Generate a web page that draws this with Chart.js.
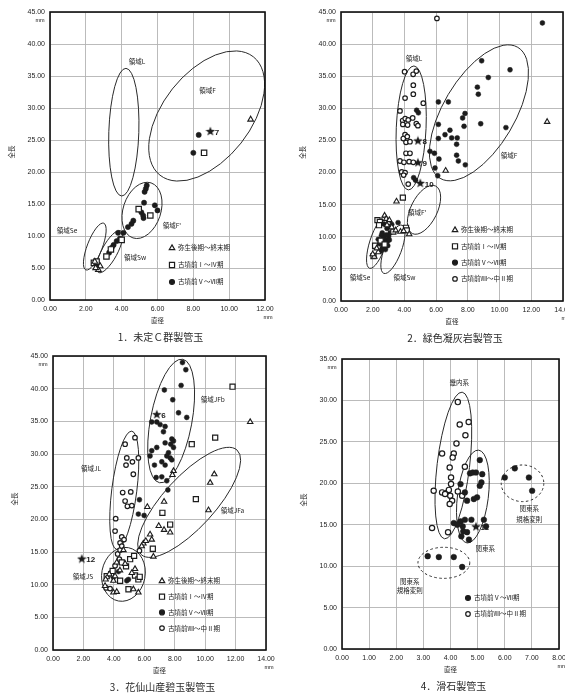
<!DOCTYPE html>
<html>
<head>
<meta charset="utf-8">
<script src="https://cdn.jsdelivr.net/npm/chart.js@4/dist/chart.umd.min.js"></script>
<style>
  html, body { margin: 0; padding: 0; background: #fff; width: 565px; height: 693px; overflow: hidden; }
  canvas { position: absolute; left: 0; top: 0; }
</style>
</head>
<body>
<canvas id="c1" width="600" height="720"></canvas>
<canvas id="c2" width="600" height="720"></canvas>
<canvas id="c3" width="600" height="720"></canvas>
<canvas id="c4" width="600" height="720"></canvas>
<script>
// ---- legend / category names ----
const KIND_LABELS = {
  tri: '弥生後期～終末期',
  sq: '古墳前Ⅰ～Ⅳ期',
  dot: '古墳前Ⅴ～Ⅶ期',
  ring: '古墳前Ⅷ～中Ⅱ期'
};

// ---- 1. 未定C群製管玉 : [直径, 全長] ----
const p1Tri = [[11.2, 28.2], [2.5, 6.0], [2.8, 5.3], [2.7, 4.7], [2.55, 5.0]];
const p1Sq = [[8.6, 23.0], [4.95, 14.2], [5.6, 13.2], [4.0, 9.4], [3.4, 7.9], [3.15, 6.8], [2.45, 5.8], [2.6, 6.0]];
const p1Dot = [[8.3, 25.8], [8.0, 23.0], [5.4, 17.9], [5.35, 17.4], [5.28, 16.9], [5.25, 15.2], [5.85, 14.8], [6.0, 14.0],
  [5.1, 13.7], [5.2, 13.2], [5.22, 12.8], [4.65, 12.4], [4.55, 11.9], [4.35, 11.4], [4.1, 10.5], [3.8, 10.5],
  [3.9, 9.6], [3.72, 9.2], [3.55, 8.6], [3.45, 8.2], [3.3, 7.4], [2.65, 5.6]];
const p1Star = [[8.95, 26.4]];
const p1StarLabels = ['7'];
const p1Regions = [['領域L', 4.85, 37.3], ['領域F', 8.8, 32.8], ['領域F\'', 6.8, 11.7], ['領域Se', 0.95, 10.8], ['領域Sw', 4.75, 6.7]];
const p1Ellipses = [
  { from: [4.0, 16.25], to: [4.24, 36.2], ratio: 0.235 },
  { from: [6.14, 19.5], to: [11.35, 38.0], ratio: 0.58 },
  { from: [4.63, 9.7], to: [5.64, 18.3], ratio: 0.65 },
  { from: [2.0, 4.7], to: [3.0, 12.0], ratio: 0.3 },
  { from: [2.7, 4.3], to: [3.95, 10.8], ratio: 0.33 }
];

// ---- 2. 緑色凝灰岩製管玉 ----
const p2Tri = [[13.0, 27.9], [6.6, 20.3], [3.5, 15.5], [2.75, 13.3], [2.85, 12.8], [3.0, 12.2], [2.9, 11.8], [3.2, 11.5],
  [3.45, 11.0], [3.75, 10.8], [3.95, 10.9], [4.3, 10.4], [2.1, 6.9], [2.0, 7.3], [2.35, 7.6], [2.25, 8.2], [3.05, 12.6]];
const p2Sq = [[3.9, 16.1], [2.3, 12.6], [2.45, 12.3], [4.1, 11.4], [4.15, 11.0], [3.3, 10.8], [2.4, 11.8], [2.15, 8.6],
  [2.5, 9.4], [2.75, 8.8], [2.05, 7.0]];
const p2Dot = [[12.7, 43.3], [8.87, 37.4], [10.66, 36.0], [9.29, 34.8], [8.6, 33.3], [8.66, 32.2], [6.14, 31.0], [6.77, 31.0],
  [7.82, 29.2], [7.67, 28.5], [7.76, 27.2], [8.81, 27.6], [10.4, 27.0], [6.14, 27.5], [6.87, 26.6], [6.56, 25.9],
  [6.14, 25.3], [6.98, 25.4], [7.33, 25.4], [7.29, 24.4], [5.61, 23.3], [5.89, 23.0], [6.18, 22.1], [7.29, 22.7],
  [7.4, 21.8], [7.84, 21.2], [5.93, 20.7], [6.1, 19.5],
  [4.77, 29.7], [4.88, 29.3], [4.58, 19.2], [4.7, 18.8],
  [3.6, 12.2], [2.7, 12.0], [2.9, 11.3], [2.6, 10.6], [2.55, 10.2], [2.7, 9.9], [2.8, 9.5], [2.6, 9.1], [2.9, 9.2],
  [2.45, 8.9], [2.7, 8.5], [2.6, 8.2], [2.8, 8.0], [2.5, 7.8], [3.0, 10.0], [3.1, 10.6], [2.95, 8.6], [3.2, 11.9],
  [2.35, 9.6], [2.85, 10.3], [3.05, 9.5]];
const p2Ring = [[6.05, 44.0], [4.01, 35.7], [4.55, 35.3], [4.75, 35.8], [4.56, 33.6], [4.56, 32.2], [4.04, 31.6], [5.19, 30.8],
  [3.72, 29.6], [3.89, 28.1], [4.05, 28.4], [4.24, 28.2], [4.52, 28.5], [3.9, 27.5], [4.2, 27.4], [4.75, 27.6],
  [4.85, 27.3], [4.04, 25.9], [3.93, 25.3], [4.18, 25.6], [4.1, 24.7], [4.35, 24.8], [4.1, 23.0], [4.35, 23.0],
  [3.72, 21.8], [3.97, 21.6], [4.3, 21.7], [4.56, 21.6], [3.83, 20.1], [4.04, 20.0], [3.95, 19.6], [4.24, 18.2]];
const p2Star = [[4.85, 25.0], [4.85, 21.6], [5.0, 18.4]];
const p2StarLabels = ['8', '9', '10'];
const p2Regions = [['領域L', 4.6, 37.7], ['領域F', 10.6, 22.7], ['領域F\'', 4.8, 13.7], ['領域Se', 1.2, 3.6], ['領域Sw', 4.0, 3.7]];
const p2Ellipses = [
  { from: [4.25, 17.3], to: [4.6, 36.6], ratio: 0.24 },
  { from: [6.25, 19.1], to: [11.15, 39.5], ratio: 0.47 },
  { from: [4.5, 10.5], to: [5.97, 17.9], ratio: 0.5 },
  { from: [1.8, 5.1], to: [2.85, 13.1], ratio: 0.3 },
  { from: [2.7, 4.3], to: [3.85, 11.8], ratio: 0.33 }
];

// ---- 3. 花仙山産碧玉製管玉 ----
const p3Tri = [[12.96, 34.9], [10.6, 26.9], [10.33, 25.6], [10.22, 21.4], [7.92, 27.4], [7.85, 26.8], [7.3, 22.7], [6.2, 21.9],
  [6.95, 19.0], [7.3, 18.4], [7.7, 18.0], [6.6, 14.3], [6.38, 17.7], [6.49, 16.9], [5.94, 16.3], [5.83, 15.9], [6.1, 16.7],
  [3.46, 10.8], [3.42, 9.8], [3.97, 10.6], [4.08, 11.3], [5.18, 11.8], [5.39, 12.4], [3.97, 8.8], [4.19, 8.9],
  [5.28, 9.3], [4.74, 13.2], [4.19, 13.4], [5.61, 8.8], [4.63, 15.3], [4.4, 12.2], [3.7, 11.6]];
const p3Sq = [[11.8, 40.3], [10.66, 32.5], [9.12, 31.5], [9.39, 23.1], [7.19, 21.0], [7.7, 19.2], [6.56, 15.5], [4.52, 13.4],
  [4.8, 12.8], [5.07, 13.9], [5.33, 14.4], [5.39, 11.4], [5.61, 10.8], [4.96, 9.3], [4.41, 10.6], [3.53, 11.3],
  [3.82, 11.6], [3.92, 12.1], [5.7, 11.2]];
const p3Dot = [[8.51, 44.0], [8.73, 42.9], [8.42, 40.5], [7.32, 39.8], [7.87, 38.3], [8.25, 36.3], [8.79, 35.6], [6.49, 34.9],
  [6.82, 34.9], [7.04, 34.5], [7.37, 34.2], [7.26, 33.4], [7.81, 32.3], [7.92, 32.0], [7.74, 31.5], [7.37, 31.7],
  [7.92, 31.0], [6.82, 31.0], [6.49, 30.5], [6.38, 29.7], [7.59, 30.2], [7.48, 29.7], [7.7, 29.4], [7.81, 29.1],
  [7.15, 28.8], [7.37, 28.3], [6.67, 28.3], [6.78, 26.4], [7.15, 26.5], [7.48, 25.9], [7.55, 24.5], [5.68, 23.0],
  [5.61, 20.8], [5.99, 20.6], [3.97, 11.1], [4.85, 10.6], [4.96, 10.8], [4.3, 12.0]];
const p3Ring = [[4.74, 31.5], [5.39, 32.5], [4.85, 29.4], [4.8, 28.3], [5.22, 28.8], [5.61, 29.4], [5.28, 26.9], [4.58, 24.1],
  [5.11, 24.2], [4.74, 22.8], [4.89, 22.0], [5.18, 22.1], [4.12, 20.1], [4.08, 18.2], [4.52, 17.3], [4.67, 16.9],
  [4.41, 16.4], [5.68, 15.2], [4.25, 14.7], [4.41, 15.3], [4.52, 15.9], [3.49, 9.5], [3.75, 9.4], [4.08, 12.9], [4.36, 13.9]];
const p3Star = [[6.82, 36.1], [1.89, 14.0]];
const p3StarLabels = ['6', '12'];
const p3Regions = [['領域JFb', 10.5, 38.3], ['領域JL', 2.5, 27.7], ['領域JFa', 11.8, 21.4], ['領域JS', 1.97, 11.3]];
const p3Ellipses = [
  { from: [7.0, 25.6], to: [8.53, 44.5], ratio: 0.33 },
  { from: [5.8, 14.6], to: [12.1, 30.6], ratio: 0.36 },
  { from: [4.19, 15.4], to: [5.18, 33.5], ratio: 0.21 },
  { from: [4.3, 7.5], to: [4.96, 15.66], ratio: 0.8 }
];

// ---- 4. 滑石製管玉 ----
const p4Dot = [[5.08, 22.8], [4.72, 21.2], [4.82, 21.3], [4.94, 21.3], [5.17, 21.1], [5.14, 20.1], [5.08, 19.7], [4.98, 18.3],
  [4.86, 18.1], [4.61, 17.9], [4.37, 19.9], [4.53, 18.9], [4.12, 15.2], [4.37, 15.4], [4.53, 15.6], [4.77, 15.6],
  [5.23, 15.6], [5.31, 14.8], [4.47, 14.2], [4.61, 14.1], [4.4, 13.6], [4.68, 13.2], [4.25, 15.0], [4.45, 14.8],
  [6.0, 20.7], [6.37, 21.8], [6.89, 20.7], [7.01, 19.1],
  [3.16, 11.2], [3.57, 11.1], [4.12, 11.1], [4.43, 9.9]];
const p4Ring = [[4.27, 29.8], [4.34, 27.1], [4.67, 27.4], [4.55, 25.8], [4.22, 24.8], [3.69, 23.6], [4.12, 23.6], [4.08, 23.1],
  [4.53, 22.0], [3.97, 21.9], [4.02, 20.7], [4.02, 19.9], [3.38, 19.1], [3.69, 18.9], [3.9, 18.9], [3.94, 19.2],
  [4.27, 19.0], [3.99, 18.5], [4.06, 17.9], [3.97, 17.5], [4.43, 18.5], [3.32, 14.6], [3.91, 14.1], [3.8, 18.7]];
const p4Star = [[4.94, 14.8]];
const p4StarLabels = ['11'];
const p4Regions = [['畿内系', 4.32, 32.1], ['関東系', 5.28, 12.1], ['関東系', 6.9, 16.9], ['規格変則', 6.9, 15.6],
  ['関東系', 2.5, 8.2], ['規格変則', 2.5, 7.0]];
const p4Ellipses = [
  { from: [3.78, 13.3], to: [4.43, 31.0], ratio: 0.22 },
  { from: [4.61, 12.8], to: [5.04, 24.0], ratio: 0.33 },
  { from: [5.87, 20.0], to: [7.44, 20.0], ratio: 0.86, dash: true },
  { from: [2.8, 10.4], to: [4.71, 10.4], ratio: 0.6, dash: true }
];

// ---- drawing ----
const NUM_FONT = '"Liberation Sans", Arial, sans-serif';
const JP_FONT = '"Noto Sans CJK JP", sans-serif';
const INK = '#1c1c1c';

function starImage(size) {
  const c = document.createElement('canvas');
  c.width = c.height = size;
  const g = c.getContext('2d');
  g.beginPath();
  for (let i = 0; i < 10; i++) {
    const r = i % 2 ? size * 0.21 : size / 2;
    const a = -Math.PI / 2 + i * Math.PI / 5;
    const px = size / 2 + r * Math.cos(a), py = size / 2 + r * Math.sin(a) + size * 0.05;
    if (i) g.lineTo(px, py); else g.moveTo(px, py);
  }
  g.closePath();
  g.fillStyle = INK;
  g.fill();
  return c;
}
const STAR = starImage(10);

function styleFor(kind, k) {
  switch (kind) {
    case 'tri': return { pointStyle: 'triangle', radius: 3.3 * k, backgroundColor: '#fff', borderColor: INK, borderWidth: 1.1 };
    case 'sq': return { pointStyle: 'rect', radius: 3.8 * k, backgroundColor: '#fff', borderColor: INK, borderWidth: 1.2 };
    case 'dot': return { pointStyle: 'circle', radius: 2.6 * k, backgroundColor: INK, borderColor: INK, borderWidth: 0.5 };
    case 'ring': return { pointStyle: 'circle', radius: 2.4 * k, backgroundColor: '#fff', borderColor: INK, borderWidth: 1.2 };
    default: return { pointStyle: STAR, radius: 5, backgroundColor: INK, borderColor: INK, borderWidth: 0 };
  }
}

function drawMarker(ctx, kind, x, y, k) {
  ctx.save();
  ctx.strokeStyle = INK; ctx.fillStyle = kind === 'dot' ? INK : '#fff'; ctx.lineWidth = 1.2;
  ctx.beginPath();
  if (kind === 'tri') {
    const r = 3.3 * k;
    ctx.moveTo(x, y - r); ctx.lineTo(x + r * 0.866, y + r / 2); ctx.lineTo(x - r * 0.866, y + r / 2); ctx.closePath();
  } else if (kind === 'sq') {
    const s = 3.8 * k * Math.SQRT1_2;
    ctx.rect(x - s, y - s, 2 * s, 2 * s);
  } else {
    ctx.arc(x, y, (kind === 'dot' ? 2.6 : 2.4) * k, 0, Math.PI * 2);
  }
  ctx.fill(); ctx.stroke();
  ctx.restore();
}

function makeDecor(p) {
  return {
    id: 'decor',
    beforeDatasetsDraw(chart) {
      const ctx = chart.ctx, sx = chart.scales.x, sy = chart.scales.y;
      ctx.save();
      ctx.strokeStyle = '#2a2a2a';
      ctx.lineWidth = 1;
      p.ellipses.forEach(e => {
        const x1 = sx.getPixelForValue(e.from[0]), y1 = sy.getPixelForValue(e.from[1]);
        const x2 = sx.getPixelForValue(e.to[0]), y2 = sy.getPixelForValue(e.to[1]);
        const a = Math.hypot(x2 - x1, y2 - y1) / 2;
        ctx.setLineDash(e.dash ? [2.5, 2.5] : []);
        ctx.beginPath();
        ctx.ellipse((x1 + x2) / 2, (y1 + y2) / 2, a, a * e.ratio, Math.atan2(y2 - y1, x2 - x1), 0, Math.PI * 2);
        ctx.stroke();
      });
      ctx.restore();
    },
    afterDraw(chart) {
      const ctx = chart.ctx, sx = chart.scales.x, sy = chart.scales.y, ca = chart.chartArea;
      ctx.save();
      // plot frame
      ctx.strokeStyle = '#111';
      ctx.lineWidth = 1.6;
      ctx.strokeRect(ca.left, ca.top, ca.right - ca.left, ca.bottom - ca.top);

      ctx.fillStyle = INK;
      ctx.textBaseline = 'middle';
      // region labels
      ctx.font = '6.5px ' + JP_FONT;
      ctx.textAlign = 'center';
      p.regions.forEach(([t, x, y]) => ctx.fillText(t, sx.getPixelForValue(x), sy.getPixelForValue(y)));
      // star numbers
      ctx.font = 'bold 8px ' + NUM_FONT;
      ctx.textAlign = 'left';
      p.stars.forEach(([x, y], i) => ctx.fillText(p.starLabels[i], sx.getPixelForValue(x) + 4.5, sy.getPixelForValue(y) + 1.5));
      // units
      ctx.font = '5.5px ' + NUM_FONT;
      ctx.textAlign = 'center';
      ctx.fillText('mm', ca.left - 10, ca.top + 8);
      ctx.fillText('mm', ca.right + 3, ca.bottom + 17);
      // axis titles
      ctx.font = '6.5px ' + JP_FONT;
      ctx.fillText('直径', (ca.left + ca.right) / 2, ca.bottom + 21);
      ctx.save();
      ctx.translate(ca.left - 38, (ca.top + ca.bottom) / 2 - 4);
      ctx.rotate(-Math.PI / 2);
      ctx.fillText('全長', 0, 0);
      ctx.restore();
      // caption
      ctx.font = '10px ' + JP_FONT;
      ctx.fillStyle = '#2a2a2a';
      ctx.fillText(p.caption, (ca.left + ca.right) / 2 + 3, ca.bottom + 37);
      // legend
      ctx.fillStyle = INK;
      ctx.font = '6.5px ' + JP_FONT;
      ctx.textAlign = 'left';
      p.legendKinds.forEach((kind, i) => {
        const y = p.legend.y + i * p.legend.gap;
        drawMarker(ctx, kind, p.legend.x, y, 0.95);
        ctx.fillText(KIND_LABELS[kind], p.legend.x + 6, y);
      });
      ctx.restore();
    }
  };
}

function makePanel(id, p) {
  const datasets = p.series.map(([kind, pts]) => Object.assign({
    data: pts.map(([x, y]) => ({ x, y })),
    pointHoverRadius: 0
  }, styleFor(kind, p.k)));
  datasets.push(Object.assign({ data: p.stars.map(([x, y]) => ({ x, y })) }, styleFor('star', p.k)));

  const tickFont = { family: NUM_FONT, size: 7 };
  const chart = new Chart(document.getElementById(id), {
    type: 'scatter',
    data: { datasets },
    options: {
      responsive: false,
      animation: false,
      events: [],
      layout: { padding: { left: p.area.left - 40, top: p.area.top, right: 600 - p.area.right, bottom: 720 - p.area.bottom - 16 } },
      plugins: { legend: { display: false }, tooltip: { enabled: false } },
      scales: {
        x: {
          type: 'linear', min: 0, max: p.xMax,
          afterFit: s => { s.height = 16; },
          ticks: { stepSize: p.xStep, autoSkip: false, maxRotation: 0, padding: 5, color: INK, font: tickFont,
            callback: v => v.toFixed(2) },
          grid: { color: '#b3b3b3', lineWidth: 0.9, drawTicks: false },
          border: { display: false }
        },
        y: {
          type: 'linear', min: 0, max: p.yMax,
          afterFit: s => { s.width = 40; },
          ticks: { stepSize: 5, autoSkip: false, padding: 5, color: INK, font: tickFont,
            callback: v => v.toFixed(2) },
          grid: { color: '#b3b3b3', lineWidth: 0.9, drawTicks: false },
          border: { display: false }
        }
      }
    },
    plugins: [makeDecor(p)]
  });

  // nudge the padding so the plot frame lands on the intended rectangle
  for (let i = 0; i < 2; i++) {
    const ca = chart.chartArea, pad = chart.options.layout.padding;
    pad.left += p.area.left - ca.left;
    pad.top += p.area.top - ca.top;
    pad.right += ca.right - p.area.right;
    pad.bottom += ca.bottom - p.area.bottom;
    chart.update('none');
  }
  return chart;
}

makePanel('c1', {
  area: { left: 50, top: 12, right: 265, bottom: 300 }, xMax: 12, xStep: 2, yMax: 45, k: 1,
  series: [['tri', p1Tri], ['sq', p1Sq], ['dot', p1Dot]],
  stars: p1Star, starLabels: p1StarLabels, regions: p1Regions, ellipses: p1Ellipses,
  legendKinds: ['tri', 'sq', 'dot'], legend: { x: 172, y: 248, gap: 17 },
  caption: '1．未定Ｃ群製管玉'
});
makePanel('c2', {
  area: { left: 341, top: 12, right: 563, bottom: 301 }, xMax: 14, xStep: 2, yMax: 45, k: 0.95,
  series: [['tri', p2Tri], ['sq', p2Sq], ['dot', p2Dot], ['ring', p2Ring]],
  stars: p2Star, starLabels: p2StarLabels, regions: p2Regions, ellipses: p2Ellipses,
  legendKinds: ['tri', 'sq', 'dot', 'ring'], legend: { x: 455, y: 230, gap: 16.3 },
  caption: '2．緑色凝灰岩製管玉'
});
makePanel('c3', {
  area: { left: 53, top: 356, right: 266, bottom: 650 }, xMax: 14, xStep: 2, yMax: 45, k: 0.95,
  series: [['tri', p3Tri], ['sq', p3Sq], ['dot', p3Dot], ['ring', p3Ring]],
  stars: p3Star, starLabels: p3StarLabels, regions: p3Regions, ellipses: p3Ellipses,
  legendKinds: ['tri', 'sq', 'dot', 'ring'], legend: { x: 162, y: 581, gap: 15.7 },
  caption: '3．花仙山産碧玉製管玉'
});
makePanel('c4', {
  area: { left: 342, top: 359, right: 559, bottom: 649 }, xMax: 8, xStep: 1, yMax: 35, k: 1.1,
  series: [['dot', p4Dot], ['ring', p4Ring]],
  stars: p4Star, starLabels: p4StarLabels, regions: p4Regions, ellipses: p4Ellipses,
  legendKinds: ['dot', 'ring'], legend: { x: 468, y: 598, gap: 16 },
  caption: '4．滑石製管玉'
});
</script>
</body>
</html>
